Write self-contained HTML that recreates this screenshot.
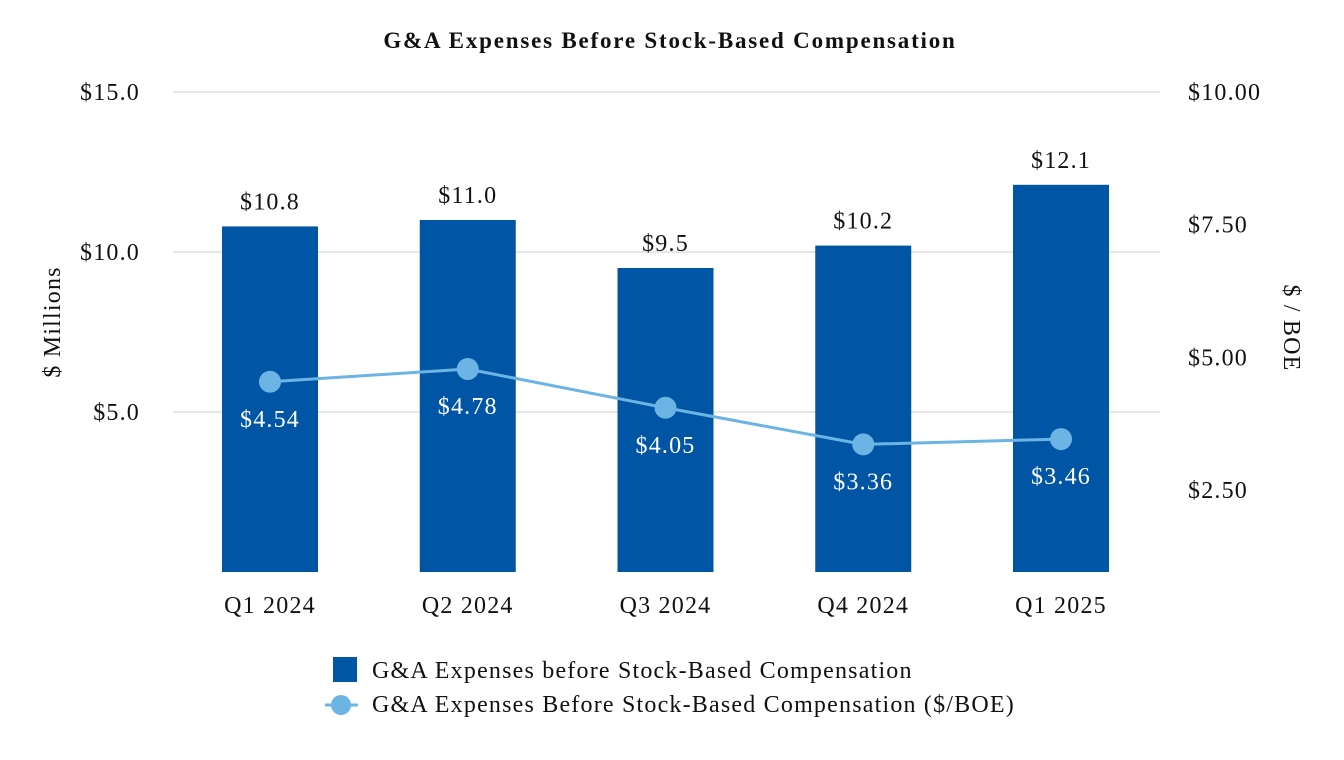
<!DOCTYPE html>
<html><head><meta charset="utf-8"><style>
html,body{margin:0;padding:0;background:#fff;}
svg{display:block;font-family:"Liberation Serif",serif;letter-spacing:1.2px;}
</style></head><body>
<svg id="chart" width="1344" height="760" viewBox="0 0 1344 760">
<text x="670" y="48" text-anchor="middle" font-size="23" font-weight="bold" fill="#111" style="letter-spacing:1.8px">G&amp;A Expenses Before Stock-Based Compensation</text>
<g id="grid"></g>
<g id="bars"></g>
<g id="line"></g>
<g id="axes"></g>
<text transform="translate(60,322) rotate(-90)" text-anchor="middle" font-size="24" fill="#111">$ Millions</text>
<text transform="translate(1284,328) rotate(90)" text-anchor="middle" font-size="24" fill="#111">$ / BOE</text>
<g>
<rect x="333" y="657" width="24" height="25" fill="#0055a4"/>
<text x="372" y="678" font-size="24" fill="#111">G&amp;A Expenses before Stock-Based Compensation</text>
<line x1="325" y1="705" x2="358" y2="705" stroke="#6cb4e4" stroke-width="3"/>
<circle cx="341" cy="705" r="10" fill="#6cb4e4"/>
<text x="372" y="712" font-size="24" fill="#111">G&amp;A Expenses Before Stock-Based Compensation ($/BOE)</text>
</g>
</svg>
<script>
const categories = ["Q1 2024","Q2 2024","Q3 2024","Q4 2024","Q1 2025"];
const barValues = [10.8, 11.0, 9.5, 10.2, 12.1];
const lineValues = [4.54, 4.78, 4.05, 3.36, 3.46];
const leftTicks = [5.0, 10.0, 15.0];
const rightTicks = [2.5, 5.0, 7.5, 10.0];
const NS = "http://www.w3.org/2000/svg";
const yL = v => 572 - v * 32;
const yR = v => 622.7 - v * 53.07;
const xC = i => 270 + i * 197.75;
function mk(tag, attrs, parent, text){
  const e = document.createElementNS(NS, tag);
  for (const k in attrs) e.setAttribute(k, attrs[k]);
  if (text !== undefined) e.textContent = text;
  parent.appendChild(e); return e;
}
const grid = document.getElementById('grid'), bars = document.getElementById('bars'),
      line = document.getElementById('line'), axes = document.getElementById('axes');
leftTicks.forEach(t => {
  const g = mk('line', {x1:173, x2:1160, y1:yL(t), y2:yL(t), stroke:'#e6e6e6', 'stroke-width':2}, grid);
  
  
  const l = mk('text', {x:140, y:yL(t)+8, 'text-anchor':'end', 'font-size':24, fill:'#111'}, axes, '$' + t.toFixed(1));
  
  
});
rightTicks.forEach(t => {
  const l = mk('text', {x:1188, y:yR(t)+8, 'font-size':24, fill:'#111'}, axes, '$' + t.toFixed(2));
  
  
});
categories.forEach((c, i) => {
  const b = mk('rect', {x:xC(i)-48, y:yL(barValues[i]), width:96, height:572-yL(barValues[i]), fill:'#0055a4'}, bars);
  
  
  const v = mk('text', {x:xC(i), y:yL(barValues[i])-17, 'text-anchor':'middle', 'font-size':24, fill:'#111'}, bars, '$' + barValues[i].toFixed(1));
  
  
  const x = mk('text', {x:xC(i), y:613, 'text-anchor':'middle', 'font-size':24, fill:'#111'}, axes, c);
  
  
});
const pl = mk('polyline', {points: lineValues.map((v,i)=>xC(i)+','+yR(v)).join(' '), fill:'none', stroke:'#6cb4e4', 'stroke-width':3}, line);


lineValues.forEach((v, i) => {
  const c = mk('circle', {cx:xC(i), cy:yR(v), r:11, fill:'#6cb4e4'}, line);
  
  
  const t = mk('text', {x:xC(i), y:yR(v)+45, 'text-anchor':'middle', 'font-size':24, fill:'#fff'}, line, '$' + v.toFixed(2));
  
  
});
</script>
</body></html>
